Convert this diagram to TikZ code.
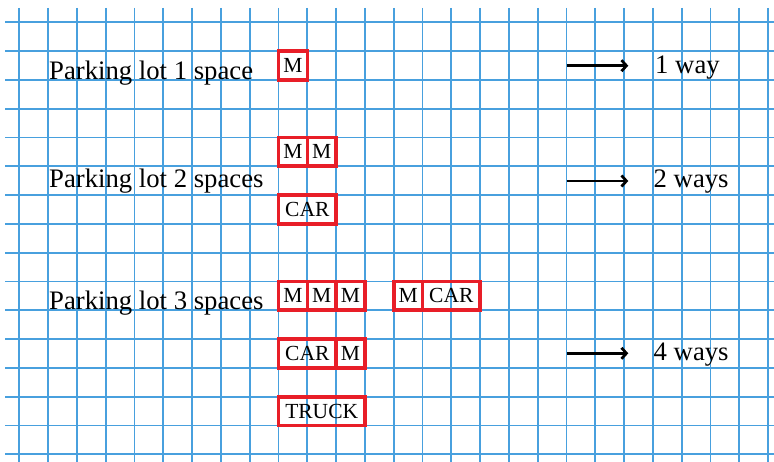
\documentclass[tikz,border=0pt]{standalone}
\usepackage{fontspec}
\setmainfont{Liberation Serif}
\usetikzlibrary{arrows.meta}
\definecolor{gridblue}{RGB}{72,160,222}
\definecolor{boxred}{RGB}{232,30,40}
\tikzset{
  gridline/.style={draw=gridblue, line width=1.8pt},
  slot/.style={draw=boxred, line width=3.6pt, rectangle, inner sep=0pt,
    minimum height=28.8pt, font=\fontsize{21.5}{24}\selectfont, text=black},
  w1/.style={minimum width=28.8pt},
  w2/.style={minimum width=57.6pt},
  w3/.style={minimum width=86.4pt},
  lbl/.style={anchor=base west, inner sep=0pt, font=\fontsize{26.7}{32}\selectfont},
  wayarrow/.style={line width=2.7pt, -{Straight Barb[length=5pt,width=11pt,line width=2.7pt]}}
}
\begin{document}
\begin{tikzpicture}[x=1pt,y=-1pt]
\useasboundingbox (0,0) rectangle (774,462);
\fill[white] (0,0) rectangle (774,462);
% grid
\foreach \i in {0,...,26} {
  \draw[gridline] ({19.3+28.8*\i},8) -- ({19.3+28.8*\i},462);
}
\foreach \j in {0,...,15} {
  \draw[gridline] (5,{22.3+28.8*\j}) -- (774,{22.3+28.8*\j});
}
% labels
\node[lbl] (p1) at (49,80) {Parking lot 1 space};
\node[lbl] (p2) at (49,187.3) {Parking lot 2 spaces};
\node[lbl] (p3) at (49,309.3) {Parking lot 3 spaces};
% row 1
\node[slot,w1] (r1m) at (292.9,65.5) {M};
% row 2
\node[slot,w1] (r2m1) at (292.9,151.9) {M};
\node[slot,w1] (r2m2) at (321.7,151.9) {M};
\node[slot,w2] (r2car) at (307.3,209.5) {CAR};
% row 3
\node[slot,w1] (r3m1) at (292.9,295.9) {M};
\node[slot,w1] (r3m2) at (321.7,295.9) {M};
\node[slot,w1] (r3m3) at (350.5,295.9) {M};
\node[slot,w1] (r3bm) at (408.1,295.9) {M};
\node[slot,w2] (r3bcar) at (451.3,295.9) {CAR};
\node[slot,w2] (r3ccar) at (307.3,353.5) {CAR};
\node[slot,w1] (r3cm) at (350.5,353.5) {M};
\node[slot,w3] (r3truck) at (321.7,411.1) {TRUCK};
% arrows
\coordinate (a1s) at (566.7,65.7);
\coordinate (a1e) at (628.3,65.7);
\coordinate (a2s) at (566.7,181);
\coordinate (a2e) at (628.3,181);
\coordinate (a3s) at (566.7,353.3);
\coordinate (a3e) at (628.3,353.3);
\draw[wayarrow] (a1s) -- (a1e);
\draw[wayarrow] (a2s) -- (a2e);
\draw[wayarrow] (a3s) -- (a3e);
\node[lbl] (w1) at (655,73.3) {1 way};
\node[lbl] (w2) at (653.5,187.7) {2 ways};
\node[lbl] (w3) at (653.5,360) {4 ways};
\end{tikzpicture}
\end{document}
